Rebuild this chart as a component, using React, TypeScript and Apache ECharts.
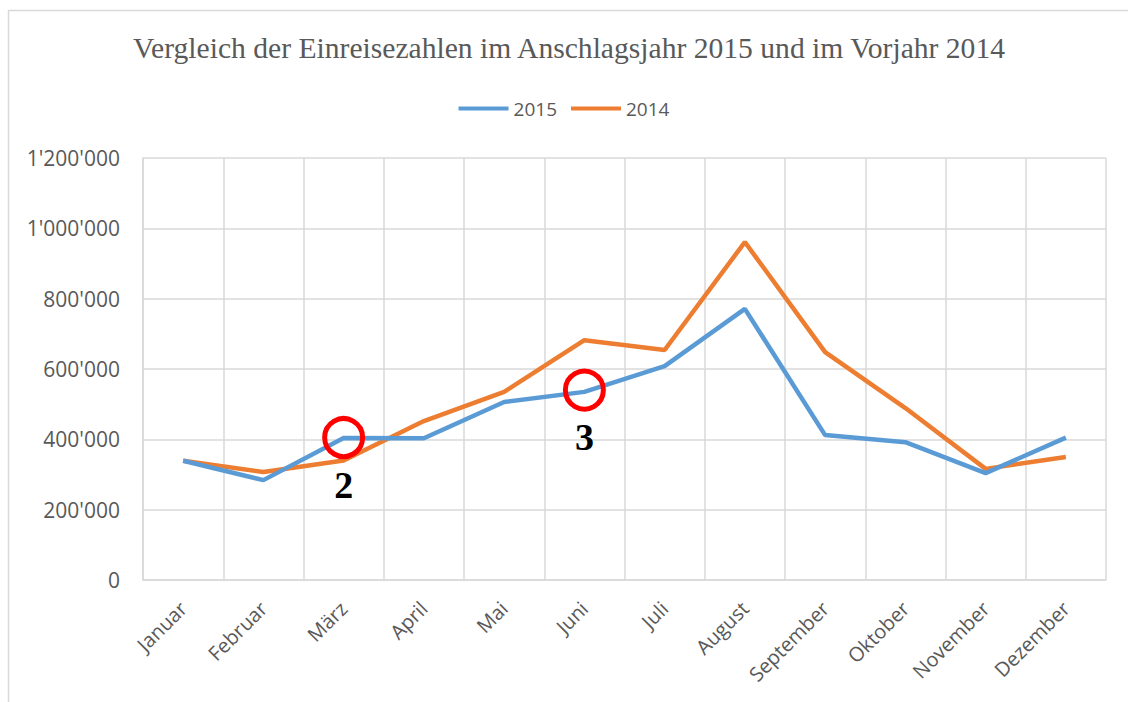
import React, { useEffect, useRef } from "react";
import * as echarts from "echarts";

const months = ["Januar", "Februar", "März", "April", "Mai", "Juni", "Juli", "August", "September", "Oktober", "November", "Dezember"];
const values2015 = [339000, 284000, 404000, 403000, 506000, 535000, 608000, 771000, 412000, 392000, 304000, 405000];
const values2014 = [339000, 307000, 340000, 452000, 535000, 682000, 654000, 961000, 648000, 489000, 316000, 350000];
const markers = [
  { month: "März", value: 405000, label: "2" },
  { month: "Juni", value: 540000, label: "3" },
];
const titleText = "Vergleich der Einreisezahlen im Anschlagsjahr 2015 und im Vorjahr 2014";

function fmt(v: number): string {
  return String(v).replace(/\B(?=(\d{3})+(?!\d))/g, "'");
}

export default function App() {
  const ref = useRef<HTMLDivElement>(null);
  useEffect(() => {
    document.body.style.margin = "0";
    const chart = echarts.init(ref.current!, null, { renderer: "svg" });
    const sans = "'Open Sans', sans-serif";
    chart.setOption({
      animation: false,
      backgroundColor: "#ffffff",
      title: {
        text: titleText,
        left: 128,
        top: 28,
        textStyle: { fontFamily: "'Liberation Serif', serif", fontSize: 29.6, fontWeight: "normal", color: "#595959" },
      },
      legend: {
        data: [
          { name: "2015", icon: "rect" },
          { name: "2014", icon: "rect" },
        ],
        top: 94,
        left: "center",
        itemWidth: 50,
        itemHeight: 4,
        itemGap: 14,
        textStyle: { fontFamily: sans, fontSize: 19, color: "#595959" },
      },
      graphic: [
        {
          type: "rect",
          shape: { x: 8.5, y: 10.5, width: 1200, height: 800 },
          style: { fill: "none", stroke: "#d9d9d9", lineWidth: 1.5 },
          silent: true,
        },
      ],
      grid: { left: 143, right: 22, top: 158, bottom: 122, containLabel: false },
      xAxis: {
        type: "category",
        data: months,
        boundaryGap: true,
        axisLine: { show: true, lineStyle: { color: "#d9d9d9", width: 1.5 } },
        axisTick: { show: false },
        splitLine: { show: true, lineStyle: { color: "#d9d9d9", width: 1.5 } },
        axisLabel: { rotate: 45, fontFamily: sans, fontSize: 20, color: "#595959", margin: 25, interval: 0 },
      },
      yAxis: {
        type: "value",
        min: 0,
        max: 1200000,
        interval: 200000,
        axisLine: { show: true, lineStyle: { color: "#d9d9d9", width: 1.5 } },
        axisTick: { show: false },
        splitLine: { show: true, lineStyle: { color: "#d9d9d9", width: 1.5 } },
        axisLabel: { fontFamily: sans, fontSize: 21, color: "#595959", margin: 23, formatter: (v: number) => fmt(v) },
      },
      series: [
        {
          name: "2015",
          type: "line",
          data: values2015,
          symbol: "none",
          lineStyle: { color: "#5B9BD5", width: 4.5 },
          itemStyle: { color: "#5B9BD5" },
          z: 3,
        },
        {
          name: "2014",
          type: "line",
          data: values2014,
          symbol: "none",
          lineStyle: { color: "#ED7D31", width: 4.5 },
          itemStyle: { color: "#ED7D31" },
          z: 2,
        },
        {
          name: "markers",
          type: "scatter",
          data: markers.map((m) => ({ value: [m.month, m.value], name: m.label })),
          symbol: "circle",
          symbolSize: 38,
          itemStyle: { color: "rgba(0,0,0,0)", borderColor: "#FF0000", borderWidth: 5, opacity: 1 },
          label: {
            show: true,
            position: "inside",
            offset: [0, 47],
            formatter: (p: any) => p.name,
            fontFamily: "'Liberation Serif', serif",
            fontWeight: "bold",
            fontSize: 38,
            color: "#000000",
          },
          z: 5,
        },
      ],
    });
    return () => chart.dispose();
  }, []);
  return <div ref={ref} style={{ width: 1128, height: 702 }} />;
}
